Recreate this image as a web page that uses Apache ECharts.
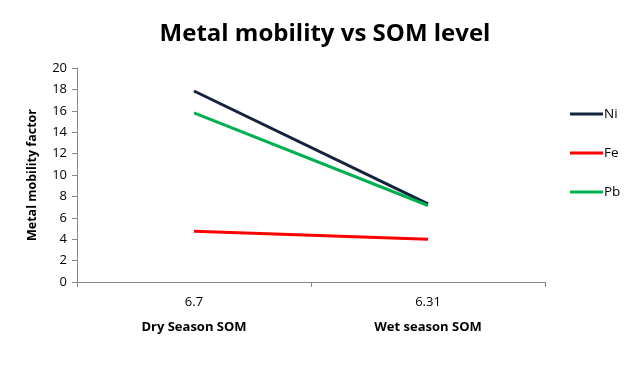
<!DOCTYPE html>
<html><head><meta charset="utf-8">
<script src="https://cdn.jsdelivr.net/npm/echarts@6/dist/echarts.min.js"></script>
<style>html,body{margin:0;padding:0;background:#fff}#c{width:644px;height:365px}</style>
</head><body><div id="c"></div>
<script>
const categories = ['6.7', '6.31'];
const categoryNames = ['Dry Season SOM', 'Wet season SOM'];
const ni = [17.85, 7.3];
const fe = [4.75, 4.0];
const pb = [15.8, 7.15];
const yTicks = [0, 2, 4, 6, 8, 10, 12, 14, 16, 18, 20];

const chart = echarts.init(document.getElementById('c'));
const font = 'Open Sans, Liberation Sans, sans-serif';
chart.setOption({
  animation: false,
  title: {
    text: 'Metal mobility vs SOM level',
    left: 320, top: 17, textAlign: 'center',
    textStyle: {fontFamily: font, fontSize: 24, fontWeight: 'bold', color: '#000'}
  },
  legend: {
    orient: 'vertical', left: 565, top: 102, itemGap: 25,
    itemWidth: 33, itemHeight: 14,
    icon: 'path://M0,6 L33,6 L33,9 L0,9 Z',
    textStyle: {fontFamily: font, fontSize: 13.5, color: '#000', padding: [0,0,0,-4]},
    data: ['Ni', 'Fe', 'Pb']
  },
  grid: {left: 77, right: 99, top: 68, bottom: 83},
  xAxis: {
    type: 'category', data: categories, boundaryGap: true,
    axisLine: {lineStyle: {color: '#868686', width: 1}},
    axisTick: {show: true, length: 5, lineStyle: {color: '#868686'}},
    axisLabel: {
      margin: 9,
      formatter: (v, i) => '{a|' + v + '}\n{b|' + categoryNames[i] + '}',
      rich: {
        a: {fontFamily: font, fontSize: 13, color: '#000', lineHeight: 22},
        b: {fontFamily: font, fontSize: 13, fontWeight: 'bold', color: '#000', lineHeight: 28}
      }
    }
  },
  yAxis: {
    type: 'value', min: 0, max: 20, interval: 2,
    name: 'Metal mobility factor', nameLocation: 'middle', nameGap: 38, nameRotate: 90,
    nameTextStyle: {fontFamily: font, fontSize: 12.5, fontWeight: 'bold', color: '#000'},
    axisLine: {show: true, lineStyle: {color: '#868686'}},
    axisTick: {show: true, length: 5, lineStyle: {color: '#868686'}},
    splitLine: {show: false},
    axisLabel: {fontFamily: font, fontSize: 13, color: '#000', margin: 10,
      formatter: v => yTicks.includes(v) ? String(v) : ''}
  },
  series: [
    {name: 'Ni', type: 'line', data: ni, symbol: 'none', lineStyle: {color: '#14233c', width: 3}, itemStyle: {color: '#14233c'}},
    {name: 'Fe', type: 'line', data: fe, symbol: 'none', lineStyle: {color: '#ff0000', width: 3}, itemStyle: {color: '#ff0000'}},
    {name: 'Pb', type: 'line', data: pb, symbol: 'none', lineStyle: {color: '#00b050', width: 3}, itemStyle: {color: '#00b050'}}
  ]
});
</script></body></html>
